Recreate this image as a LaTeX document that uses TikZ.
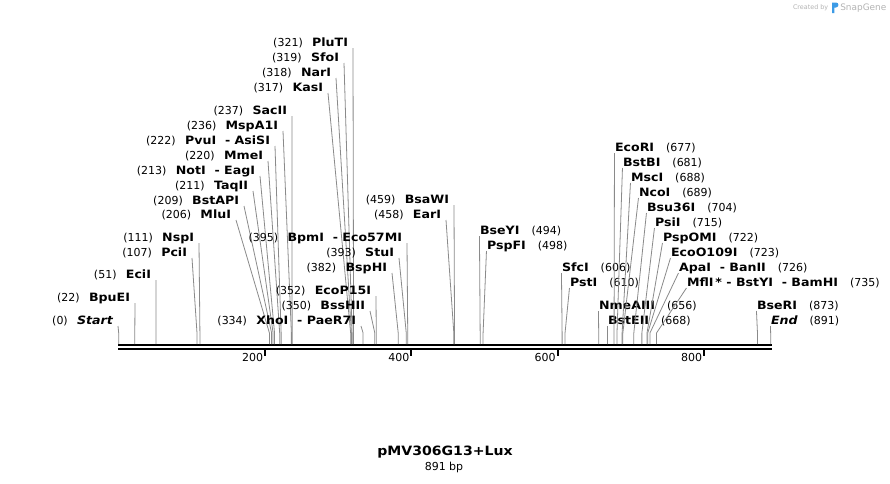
\documentclass[tikz,border=0pt]{standalone}
\usepackage{fontspec}
\setmainfont{DejaVu Sans}
\newfontfamily\enzfont{DejaVu Sans}[FakeStretch=1.1]
\usetikzlibrary{calc}
\definecolor{conncol}{HTML}{8A8A8A}
\definecolor{sgblue}{HTML}{3C9BE6}
\definecolor{sggray}{HTML}{B4B4B4}
\newcommand{\enz}[1]{{\fontsize{8.6}{10}\selectfont\enzfont\bfseries #1}}
\tikzset{
  lbl/.style={inner sep=0pt, outer sep=0pt, font=\fontsize{8.25}{10}\selectfont},
  conn/.style={draw=conncol, line width=0.6pt},
  tickmark/.style={draw=black, line width=1.5pt},
  backbone/.style={draw=black}
}
\newcommand{\lsite}[5]{%
  \node[lbl,anchor=base east] (#1) at (#4,#5+4) {(#2)\hspace{7pt}\enz{#3}};
  \coordinate (s#1) at ({118.7+#2*0.7317},344);
  \draw[conn] ([xshift=3.75pt,yshift=-1.5pt]#1.base east) -- ([yshift=8.25pt]s#1) -- (s#1);
}
\newcommand{\rsite}[5]{%
  \node[lbl,anchor=base west] (#1) at (#4,#5+4) {\enz{#3}\hspace{9pt}(#2)};
  \coordinate (s#1) at ({118.7+#2*0.7317},344);
  \draw[conn] ([xshift=-0.4pt,yshift=-1.5pt]#1.base west) -- ([yshift=8.25pt]s#1) -- (s#1);
}
\begin{document}
\begin{tikzpicture}[x=0.75pt,y=-0.75pt]
\fill[white] (0,0) rectangle (890,483);
\useasboundingbox (0,0) rectangle (890,483);
% backbone
\draw[backbone, line width=1.5pt] (118,345) -- (771.5,345);
\draw[backbone, line width=1.8pt] (118,349) -- (771.5,349);
\foreach \v in {200,400,600,800}{
  \draw[tickmark] ({118.7+\v*0.7317},349) -- ({118.7+\v*0.7317},356);
  \node[lbl,anchor=east] (t\v) at ({116.7+\v*0.7317},357) {\v};
}
% left labels
\lsite{start}{0}{\itshape Start}{113}{320}
\lsite{bpuei}{22}{BpuEI}{130}{297}
\lsite{ecii}{51}{EciI}{151}{274}
\lsite{pcii}{107}{PciI}{187}{252}
\lsite{nspi}{111}{NspI}{194}{237}
\lsite{mlui}{206}{MluI}{231}{214}
\lsite{bstapi}{209}{BstAPI}{239}{200}
\lsite{taqii}{211}{TaqII}{248}{185}
\lsite{noti}{213}{NotI\ \ -\ EagI}{255}{170}
\lsite{mmei}{220}{MmeI}{263}{155}
\lsite{pvui}{222}{PvuI\ \ -\ AsiSI}{270}{140}
\lsite{mspa}{236}{MspA1I}{278}{125}
\lsite{sacii}{237}{SacII}{287}{110}
\lsite{kasi}{317}{KasI}{323}{87}
\lsite{nari}{318}{NarI}{331}{72}
\lsite{sfoi}{319}{SfoI}{339}{57}
\lsite{pluti}{321}{PluTI}{348}{42}
\lsite{xhoi}{334}{XhoI\ \ -\ PaeR7I}{356}{320}
\lsite{bsshii}{350}{BssHII}{365}{305}
\lsite{ecop}{352}{EcoP15I}{371}{290}
\lsite{bsphi}{382}{BspHI}{387}{267}
\lsite{stui}{393}{StuI}{394}{252}
\lsite{bpmi}{395}{BpmI\ \ -\ Eco57MI}{402}{237}
\lsite{eari}{458}{EarI}{441}{214}
\lsite{bsawi}{459}{BsaWI}{449}{199}
% right labels
\rsite{bseyi}{494}{BseYI}{480}{230}
\rsite{pspfi}{498}{PspFI}{487}{245}
\rsite{sfci}{606}{SfcI}{562}{267}
\rsite{psti}{610}{PstI}{570}{282}
\rsite{nmea}{656}{NmeAIII}{599}{305}
\rsite{bsteii}{668}{BstEII}{608}{320}
\rsite{ecori}{677}{EcoRI}{615}{147}
\rsite{bstbi}{681}{BstBI}{623}{162}
\rsite{msci}{688}{MscI}{631}{177}
\rsite{ncoi}{689}{NcoI}{639}{192}
\rsite{bsu}{704}{Bsu36I}{647}{207}
\rsite{psii}{715}{PsiI}{655}{222}
\rsite{pspomi}{722}{PspOMI}{663}{237}
\rsite{ecoo}{723}{EcoO109I}{671}{252}
\rsite{apai}{726}{ApaI\ \ -\ BanII}{679}{267}
\rsite{mfli}{735}{MflI\,*\ -\ BstYI\ \ -\ BamHI}{687}{282}
\rsite{bseri}{873}{BseRI}{757}{305}
\rsite{end}{891}{\itshape End}{771}{320}
% title
\node[inner sep=0pt, font=\fontsize{9.6}{11}\selectfont\enzfont\bfseries] (title) at (445,452) {pMV306G13+Lux};
\node[lbl] (bp) at (444,467) {891 bp};
% credit
\node[inner sep=0pt, anchor=east, text=sggray, font=\fontsize{4.8}{6}\selectfont] (created) at (828.5,8) {Created by};
\fill[sgblue] (832,2.5) -- (836,2.5) .. controls (839,2.5) and (839.5,7) .. (836,7.5) -- (834.3,7.5) -- (834.3,13) -- (832,13) -- cycle;
\node[inner sep=0pt, anchor=west, text=sggray, font=\fontsize{6.7}{8}\selectfont] (snapgene) at (840,8) {SnapGene};
\end{tikzpicture}
\end{document}
